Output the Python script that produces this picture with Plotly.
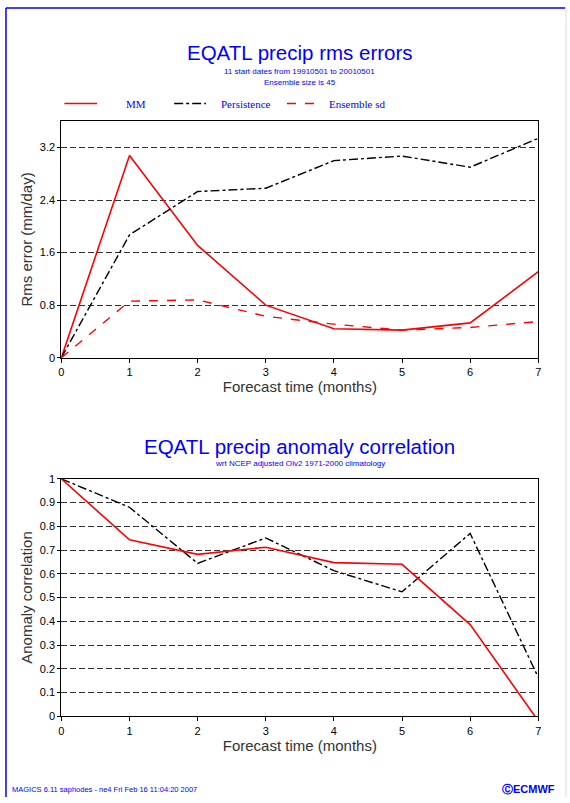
import plotly.graph_objects as go

W, H = 570, 803

months = [0, 1, 2, 3, 4, 5, 6, 7]
rms_mm = [0.0, 3.08, 1.71, 0.80, 0.44, 0.42, 0.53, 1.31]
rms_persistence = [0.0, 1.87, 2.53, 2.58, 3.00, 3.07, 2.90, 3.34]
rms_ens_sd = [0.0, 0.86, 0.88, 0.63, 0.51, 0.42, 0.46, 0.55]

acc_mm = [1.0, 0.743, 0.682, 0.712, 0.647, 0.640, 0.386, -0.02]
acc_persistence = [1.0, 0.88, 0.644, 0.751, 0.613, 0.524, 0.77, 0.163]

rms_ticks = [0, 0.8, 1.6, 2.4, 3.2]
acc_ticks = [0, 0.1, 0.2, 0.3, 0.4, 0.5, 0.6, 0.7, 0.8, 0.9, 1]
x_ticks = [0, 1, 2, 3, 4, 5, 6, 7]


def px(x):
    return x / W


def py(y):
    return 1 - y / H


fig = go.Figure()

# top chart
fig.add_trace(go.Scatter(x=months, y=rms_mm, mode="lines", name="MM",
                         line=dict(color="#ff0000", width=1.6), xaxis="x", yaxis="y"))
fig.add_trace(go.Scatter(x=months, y=rms_persistence, mode="lines", name="Persistence",
                         line=dict(color="#000000", width=1.4, dash="dashdot"), xaxis="x", yaxis="y"))
fig.add_trace(go.Scatter(x=months, y=rms_ens_sd, mode="lines", name="Ensemble sd",
                         line=dict(color="#ff0000", width=1.4, dash="dash"), xaxis="x", yaxis="y"))

# bottom chart
fig.add_trace(go.Scatter(x=months, y=acc_persistence, mode="lines", name="Persistence",
                         line=dict(color="#000000", width=1.4, dash="dashdot"), xaxis="x2", yaxis="y2"))
fig.add_trace(go.Scatter(x=months, y=acc_mm, mode="lines", name="MM",
                         line=dict(color="#ff0000", width=1.6), xaxis="x2", yaxis="y2"))

tickfont = dict(family="Liberation Sans, Arial, sans-serif", size=11, color="black")
titlefont = dict(family="Liberation Sans, Arial, sans-serif", size=15, color="#333333")

common_x = dict(range=[0, 7], tickvals=x_ticks, ticks="outside", ticklen=4, tickcolor="black",
                showgrid=False, zeroline=False, showline=True, linecolor="black", linewidth=1.2,
                mirror=True, tickfont=tickfont, title_font=titlefont, title_standoff=1)
common_y = dict(ticks="outside", ticklen=3, tickcolor="black",
                showgrid=True, gridcolor="#333333", gridwidth=1, griddash="6px,3px",
                zeroline=False, showline=True, linecolor="black", linewidth=1.2,
                mirror=True, tickfont=tickfont, title_font=titlefont, title_standoff=3)

fig.update_layout(
    width=W, height=H,
    margin=dict(l=0, r=0, t=0, b=0),
    paper_bgcolor="white", plot_bgcolor="white",
    showlegend=False,
    xaxis=dict(common_x, domain=[px(59), px(541)], anchor="y",
               title_text="Forecast time (months)"),
    yaxis=dict(common_y, domain=[py(357), py(117)], anchor="x", range=[0, 3.6],
               tickvals=rms_ticks, ticktext=["0", "0.8", "1.6", "2.4", "3.2"],
               title_text="Rms error (mm/day)"),
    xaxis2=dict(common_x, domain=[px(59), px(541)], anchor="y2",
                title_text="Forecast time (months)"),
    yaxis2=dict(common_y, domain=[py(721), py(480)], anchor="x2", range=[0, 1],
                tickvals=acc_ticks, ticktext=[("%g" % v) for v in acc_ticks],
                title_text="Anomaly correlation"),
)

blue = "#0000ff"
sans = "Liberation Sans, Arial, sans-serif"
serif = "Liberation Serif, Times New Roman, serif"

annotations = [
    dict(text="EQATL precip rms errors", x=px(300), y=py(47), font=dict(family=sans, size=20.5, color=blue)),
    dict(text="11 start dates from 19910501 to 20010501", x=px(300), y=py(67), font=dict(family=sans, size=8, color=blue)),
    dict(text="Ensemble size is 45", x=px(300), y=py(78), font=dict(family=sans, size=8, color=blue)),
    dict(text="EQATL precip anomaly correlation", x=px(300), y=py(447), font=dict(family=sans, size=20.5, color=blue)),
    dict(text="wrt NCEP adjusted OIv2 1971-2000 climatology", x=px(300), y=py(464), font=dict(family=sans, size=8, color=blue)),
    dict(text="MM", x=px(122), y=py(99), xanchor="left", font=dict(family=serif, size=11, color=blue)),
    dict(text="Persistence", x=px(218), y=py(99), xanchor="left", font=dict(family=serif, size=11, color=blue)),
    dict(text="Ensemble sd", x=px(327), y=py(99), xanchor="left", font=dict(family=serif, size=11, color=blue)),
    dict(text="MAGICS 6.11 saphodes - ne4 Fri Feb 16 11:04:20 2007", x=px(7), y=py(795), xanchor="left",
         font=dict(family=sans, size=7.5, color=blue)),
    dict(text="<b>ⒸECMWF</b>", x=px(560), y=py(795), xanchor="right",
         font=dict(family=sans, size=11, color=blue)),
]
for a in annotations:
    a.setdefault("xanchor", "center")
    a.update(xref="paper", yref="paper", yanchor="middle", showarrow=False)
fig.update_layout(annotations=annotations)

shapes = [
    # legend samples
    dict(type="line", x0=px(62), x1=px(95), y0=py(99), y1=py(99), line=dict(color="#ff0000", width=1.6)),
    dict(type="line", x0=px(173), x1=px(205), y0=py(99), y1=py(99), line=dict(color="black", width=1.4, dash="dashdot")),
    dict(type="line", x0=px(287), x1=px(321), y0=py(99), y1=py(99), line=dict(color="#ff0000", width=1.4, dash="dash")),
    # page frame
    dict(type="line", x0=px(3), x1=px(568), y0=py(2), y1=py(2), line=dict(color=blue, width=1.5)),
    dict(type="line", x0=px(3), x1=px(3), y0=py(2), y1=py(803), line=dict(color=blue, width=1.5)),
    dict(type="line", x0=px(569), x1=px(569), y0=py(0), y1=py(803), line=dict(color="#dddddd", width=1)),
]
for s in shapes:
    s.update(xref="paper", yref="paper")
fig.update_layout(shapes=shapes)

fig.write_html(
    "out.html",
    config={"displayModeBar": False},
    post_script="document.body.style.margin='0';document.documentElement.style.overflow='hidden';document.body.style.overflow='hidden';",
)
